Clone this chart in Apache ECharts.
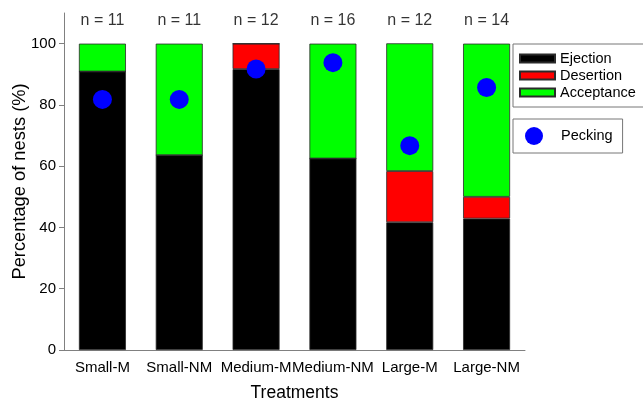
<!DOCTYPE html>
<html>
<head>
<meta charset="utf-8">
<script src="https://cdn.jsdelivr.net/npm/echarts@6/dist/echarts.min.js"></script>
<style>
  html, body { margin: 0; padding: 0; background: #fff; }
  #chart { width: 643px; height: 403px; }
</style>
</head>
<body>
<div id="chart"></div>
<script>
// Nest outcome percentages per treatment
const treatments = ['Small-M', 'Small-NM', 'Medium-M', 'Medium-NM', 'Large-M', 'Large-NM'];
const sampleSizes = [11, 11, 12, 16, 12, 14];
const ejection   = [90.9, 63.6, 91.7, 62.5, 41.7, 42.9];
const desertion  = [0, 0, 8.3, 0, 16.7, 7.1];
const acceptance = [9.1, 36.4, 0, 37.5, 41.7, 50.0];
const pecking    = [81.8, 81.8, 91.7, 93.8, 66.7, 85.7];
const yTicks = [0, 20, 40, 60, 80, 100];
const nLabelLevel = 107.5;

const font = 'Liberation Sans, Arial, sans-serif';
const chart = echarts.init(document.getElementById('chart'));

const barStyle = (color) => ({
  type: 'bar',
  stack: 'outcome',
  barWidth: 47,
  itemStyle: { color: color, borderColor: '#2a2a2a', borderWidth: 0.8 },
  emphasis: { disabled: true }
});

chart.setOption({
  animation: false,
  textStyle: { fontFamily: font },
  grid: { left: 64, right: 118, top: 13, bottom: 53, containLabel: false, outerBoundsMode: 'none' },
  legend: [
    {
      data: ['Ejection', 'Desertion', 'Acceptance'],
      orient: 'vertical',
      left: 513, top: 44,
      padding: [7, 8, 7, 6],
      itemGap: 2,
      itemWidth: 35, itemHeight: 8,
      icon: 'rect',
      borderColor: '#777', borderWidth: 1,
      textStyle: { fontSize: 14.5, color: '#000', fontFamily: font },
      selectedMode: false
    },
    {
      data: ['Pecking'],
      orient: 'vertical',
      left: 513, top: 119,
      padding: [8, 10, 8, 12],
      itemWidth: 44, itemHeight: 18,
      icon: 'circle',
      borderColor: '#777', borderWidth: 1,
      textStyle: { fontSize: 14.5, color: '#000', fontFamily: font },
      selectedMode: false
    }
  ],
  xAxis: {
    type: 'category',
    data: treatments,
    name: 'Treatments',
    nameLocation: 'middle',
    nameGap: 34,
    nameTextStyle: { fontSize: 17.5, color: '#000', fontFamily: font },
    axisLine: { lineStyle: { color: '#808080', width: 1 } },
    axisTick: { alignWithLabel: true, length: 5, lineStyle: { color: '#808080' } },
    axisLabel: { interval: 0, fontSize: 15, color: '#000', margin: 10, fontFamily: font },
    splitLine: { show: false }
  },
  yAxis: {
    type: 'value',
    min: 0, max: 110,
    name: 'Percentage of nests (%)',
    nameLocation: 'middle',
    nameMoveOverlap: false,
    nameGap: 35,
    nameTextStyle: { fontSize: 18.3, color: '#000', fontFamily: font },
    axisLine: { show: true, lineStyle: { color: '#808080', width: 1 } },
    axisTick: { show: true, length: 5, customValues: yTicks, lineStyle: { color: '#808080' } },
    axisLabel: { fontSize: 15, color: '#000', margin: 8, customValues: yTicks, fontFamily: font },
    splitLine: { show: false }
  },
  series: [
    Object.assign(barStyle('#000000'), { name: 'Ejection', data: ejection }),
    Object.assign(barStyle('#ff0000'), { name: 'Desertion', data: desertion }),
    Object.assign(barStyle('#00ff00'), { name: 'Acceptance', data: acceptance }),
    {
      name: 'Pecking',
      type: 'scatter',
      data: pecking,
      symbol: 'circle',
      symbolSize: 19,
      itemStyle: { color: '#0000ff', opacity: 1 },
      z: 5,
      emphasis: { disabled: true }
    },
    {
      name: 'sampleSize',
      type: 'scatter',
      data: sampleSizes.map(() => nLabelLevel),
      symbolSize: 0,
      silent: true,
      label: {
        show: true,
        position: 'inside',
        fontSize: 16,
        color: '#000',
        fontFamily: font,
        formatter: (p) => 'n = ' + sampleSizes[p.dataIndex]
      }
    }
  ]
});
</script>
</body>
</html>
